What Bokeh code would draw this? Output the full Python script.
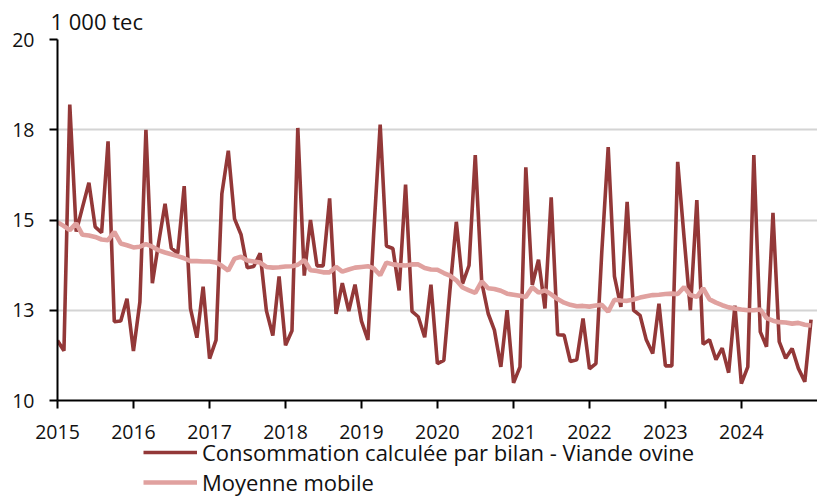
import pandas as pd
from bokeh.plotting import figure
from bokeh.layouts import column
from bokeh.models import (ColumnDataSource, FixedTicker, DatetimeTickFormatter,
                          Legend, LegendItem, Range1d)
from bokeh.embed import file_html
from bokeh.resources import INLINE

# ---------------- data ----------------
months = pd.date_range("2015-01-01", periods=120, freq="MS")

consommation = [
    11.66, 11.38, 18.20, 14.68, 15.35, 16.03, 14.81, 14.65, 17.18, 12.18, 12.20, 12.82,  # 2015
    11.37, 12.73, 17.50, 13.25, 14.37, 15.45, 14.22, 14.08, 15.94, 12.55, 11.74, 13.15,  # 2016
    11.16, 11.67, 15.73, 16.92, 15.03, 14.60, 13.68, 13.71, 14.08, 12.49, 11.80, 13.44,  # 2017
    11.53, 11.93, 17.55, 13.46, 15.00, 13.73, 13.73, 15.60, 12.40, 13.25, 12.48, 13.21,  # 2018
    12.20, 11.68, 14.65, 17.64, 14.28, 14.21, 13.05, 15.98, 12.47, 12.32, 11.75, 13.21,  # 2019
    11.02, 11.11, 13.04, 14.95, 13.24, 13.74, 16.80, 13.28, 12.41, 11.95, 10.93, 12.50,  # 2020
    10.49, 10.93, 16.46, 13.20, 13.90, 12.55, 15.63, 11.82, 11.81, 11.08, 11.13, 12.27,  # 2021
    10.88, 11.02, 14.10, 17.02, 13.44, 12.59, 15.50, 12.50, 12.36, 11.68, 11.30, 12.68,  # 2022
    10.96, 10.96, 16.61, 14.50, 12.50, 15.55, 11.56, 11.68, 11.13, 11.45, 10.77, 12.63,  # 2023
    10.47, 10.93, 16.80, 11.90, 11.49, 15.20, 11.63, 11.17, 11.44, 10.89, 10.52, 12.24,  # 2024
]

moyenne_mobile = [
    14.94, 14.83, 14.72, 14.91, 14.59, 14.57, 14.53, 14.46, 14.44, 14.67, 14.35, 14.30,  # 2015
    14.24, 14.26, 14.33, 14.26, 14.16, 14.10, 14.05, 14.00, 13.94, 13.86, 13.86, 13.85,  # 2016
    13.85, 13.82, 13.73, 13.60, 13.93, 13.98, 13.88, 13.85, 13.82, 13.70, 13.68, 13.69,  # 2017
    13.71, 13.72, 13.76, 13.89, 13.61, 13.59, 13.55, 13.55, 13.70, 13.57, 13.63, 13.68,  # 2018
    13.70, 13.72, 13.66, 13.47, 13.82, 13.77, 13.75, 13.74, 13.77, 13.77, 13.67, 13.63,  # 2019
    13.62, 13.53, 13.46, 13.33, 13.13, 13.05, 12.98, 13.30, 13.11, 13.09, 13.04, 12.96,  # 2020
    12.93, 12.90, 12.87, 13.14, 12.99, 13.05, 12.94, 12.81, 12.71, 12.65, 12.61, 12.62,  # 2021
    12.60, 12.63, 12.65, 12.46, 12.79, 12.77, 12.76, 12.80, 12.85, 12.89, 12.92, 12.93,  # 2022
    12.95, 12.96, 12.95, 13.14, 12.92, 12.87, 13.11, 12.80, 12.71, 12.64, 12.58, 12.55,  # 2023
    12.52, 12.50, 12.50, 12.52, 12.28, 12.21, 12.17, 12.16, 12.13, 12.15, 12.10, 12.08,  # 2024
]

year_ticks = list(range(2015, 2025))
y_ticks = [10, 12.5, 15, 17.5, 20]
y_tick_labels = ["10", "13", "15", "18", "20"]

series_names = ["Consommation calculée par bilan - Viande ovine", "Moyenne mobile"]
unit_label = "1 000 tec"

# ---------------- styling ----------------
FONT = "Open Sans"
COL_RAW = "#933838"
COL_MA = "#E0A19F"
RAW_W = 3.6
MA_W = 4.6

src = ColumnDataSource(dict(date=months, cons=consommation, ma=moyenne_mobile))

p = figure(width=817, height=451, x_axis_type="datetime",
           output_backend="svg", toolbar_location=None,
           x_range=Range1d(pd.Timestamp("2015-01-01"), pd.Timestamp("2025-01-01")),
           y_range=Range1d(10, 20),
           min_border_left=57, min_border_right=0, min_border_top=39, min_border_bottom=51)
p.outline_line_color = None
p.background_fill_color = "white"
p.border_fill_color = "white"

# unit label as title
p.title.text = unit_label
p.title.align = "left"
p.title.offset = -7
p.title.standoff = 7
p.title.text_font = FONT
p.title.text_font_size = "22px"
p.title.text_font_style = "normal"
p.title.text_color = "#111111"

r_raw = p.line("date", "cons", source=src, line_color=COL_RAW, line_width=RAW_W)
r_ma = p.line("date", "ma", source=src, line_color=COL_MA, line_width=MA_W)

# axes
tick_ms = [pd.Timestamp(f"{y}-01-01").value // 10**6 for y in year_ticks]
p.xaxis.ticker = FixedTicker(ticks=tick_ms)
fmt = "%Y"
p.xaxis.formatter = DatetimeTickFormatter(years=fmt, months=fmt, days=fmt, hours=fmt,
                                          minutes=fmt, seconds=fmt, milliseconds=fmt,
                                          microseconds=fmt, hourmin=fmt, minsec=fmt)
p.yaxis.ticker = FixedTicker(ticks=y_ticks)
p.yaxis.major_label_overrides = {t: lab for t, lab in zip(y_ticks, y_tick_labels)}

for ax in (p.xaxis[0], p.yaxis[0]):
    ax.axis_line_color = "black"
    ax.axis_line_width = 2
    ax.major_tick_line_color = "black"
    ax.major_tick_line_width = 2
    ax.major_tick_out = 8
    ax.major_tick_in = 0
    ax.minor_tick_line_color = None
    ax.major_label_text_font = FONT
    ax.major_label_text_font_size = "19.5px"
    ax.major_label_text_color = "#111111"

p.xaxis.major_label_standoff = 16
p.yaxis.major_label_standoff = 15

p.xgrid.visible = False
p.ygrid.grid_line_color = "#d4d4d4"
p.ygrid.grid_line_width = 2

# ---------------- legend strip, slightly overlapping the chart's bottom border ----------------
pl = figure(width=817, height=60, output_backend="svg", toolbar_location=None,
            x_range=Range1d(0, 1), y_range=Range1d(0, 1),
            x_axis_location=None, y_axis_location=None,
            min_border_left=0, min_border_right=0, min_border_top=0, min_border_bottom=0)
pl.styles = {"margin-top": "-14px"}
pl.outline_line_color = None
pl.xgrid.visible = False
pl.ygrid.visible = False
pl.background_fill_alpha = 0
pl.border_fill_alpha = 0
# legend keys (kept outside the visible range of this strip)
k_raw = pl.line(x=[5, 6], y=[5, 6], line_color=COL_RAW, line_width=RAW_W)
k_ma = pl.line(x=[5, 6], y=[5, 6], line_color=COL_MA, line_width=MA_W)

legend = Legend(items=[LegendItem(label=series_names[0], renderers=[k_raw]),
                       LegendItem(label=series_names[1], renderers=[k_ma])],
                location=(86, 0), orientation="vertical")
legend.border_line_color = None
legend.background_fill_alpha = 0
legend.padding = 0
legend.margin = 0
legend.spacing = -5
legend.glyph_width = 54
legend.glyph_height = 20
legend.label_standoff = 5
legend.label_height = 20
legend.label_text_font = FONT
legend.label_text_font_size = "22px"
legend.label_text_color = "#111111"
pl.add_layout(legend)

layout = column(p, pl, spacing=0)
open("out.html", "w").write(file_html(layout, INLINE))
